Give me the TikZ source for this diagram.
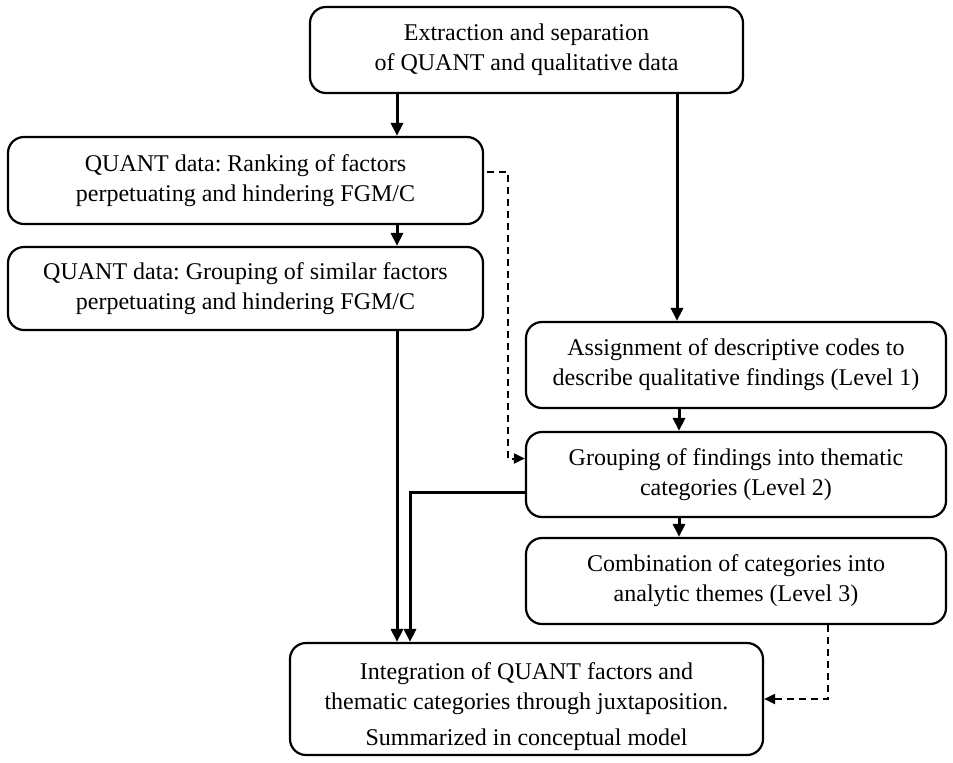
\documentclass[tikz,border=0pt]{standalone}
\usepackage{fontspec}
\setmainfont{Liberation Serif}
\usepackage{tikz}
\usetikzlibrary{arrows.meta}

\begin{document}
\frenchspacing
\begin{tikzpicture}[
  x=0.5pt, y=-0.5pt,
  box/.style={draw, line width=1.1pt, rounded corners=8pt, align=center, inner sep=0pt,
    font=\fontsize{12pt}{15pt}\selectfont},
  flow/.style={-{Triangle[length=6.5pt,width=6pt]}, line width=1.5pt},
  fail/.style={-{Triangle[length=5.5pt,width=5pt]}, line width=1pt, dash pattern=on 3.5pt off 2.5pt}]

\useasboundingbox (0,0) rectangle (953,762);

% Position the boxes at their places
\node[box, minimum width=216.5pt, minimum height=43pt] (extract) at (526.5,50)
  {Extraction and separation \\ of QUANT and qualitative data};
\node[box, minimum width=237.5pt, minimum height=43.5pt] (ranking) at (245.5,180.5)
  {QUANT data: Ranking of factors \\ perpetuating and hindering FGM/C};
\node[box, minimum width=237.5pt, minimum height=41.5pt] (similar) at (245.5,288.5)
  {QUANT data: Grouping of similar factors \\ perpetuating and hindering FGM/C};
\node[box, minimum width=210pt, minimum height=43pt] (codes) at (736,365)
  {Assignment of descriptive codes to \\ describe qualitative findings (Level 1)};
\node[box, minimum width=210pt, minimum height=42.5pt] (categories) at (736,474.5)
  {Grouping of findings into thematic \\ categories (Level 2)};
\node[box, minimum width=210pt, minimum height=43pt] (themes) at (736,581)
  {Combination of categories into \\ analytic themes (Level 3)};
\node[box, minimum width=236.5pt, minimum height=56pt] (integration) at (526.5,699)
  {\rule{0pt}{16pt}Integration of QUANT factors and \\ thematic categories through juxtaposition. \\[3pt] Summarized in conceptual model};

% Columns of the connectors
\coordinate (quantx) at (397,0);
\coordinate (qualx) at (677,0);
\coordinate (levelx) at (679,0);
\coordinate (joinx) at (410,0);
\coordinate (dashx) at (828,0);

% Draw the arrows between the boxes
\draw[flow] (extract.south -| quantx) -- (ranking.north -| quantx);
\draw[flow] (ranking.south -| quantx) -- (similar.north -| quantx);
\draw[flow] (similar.south -| quantx) -- (integration.north -| quantx);
\draw[flow] (extract.south -| qualx) -- (codes.north -| qualx);
\draw[flow] (codes.south -| levelx) -- (categories.north -| levelx);
\draw[flow] (categories.south -| levelx) -- (themes.north -| levelx);
\draw[flow] ([yshift=-9pt]categories.west) -| (integration.north -| joinx);
\draw[fail] ([xshift=1.5pt,yshift=4.5pt]ranking.east) -- ++(10.5pt,0) |- ([yshift=8pt]categories.west);
\draw[fail] (themes.south -| dashx) |- (integration.east);

\end{tikzpicture}
\end{document}
